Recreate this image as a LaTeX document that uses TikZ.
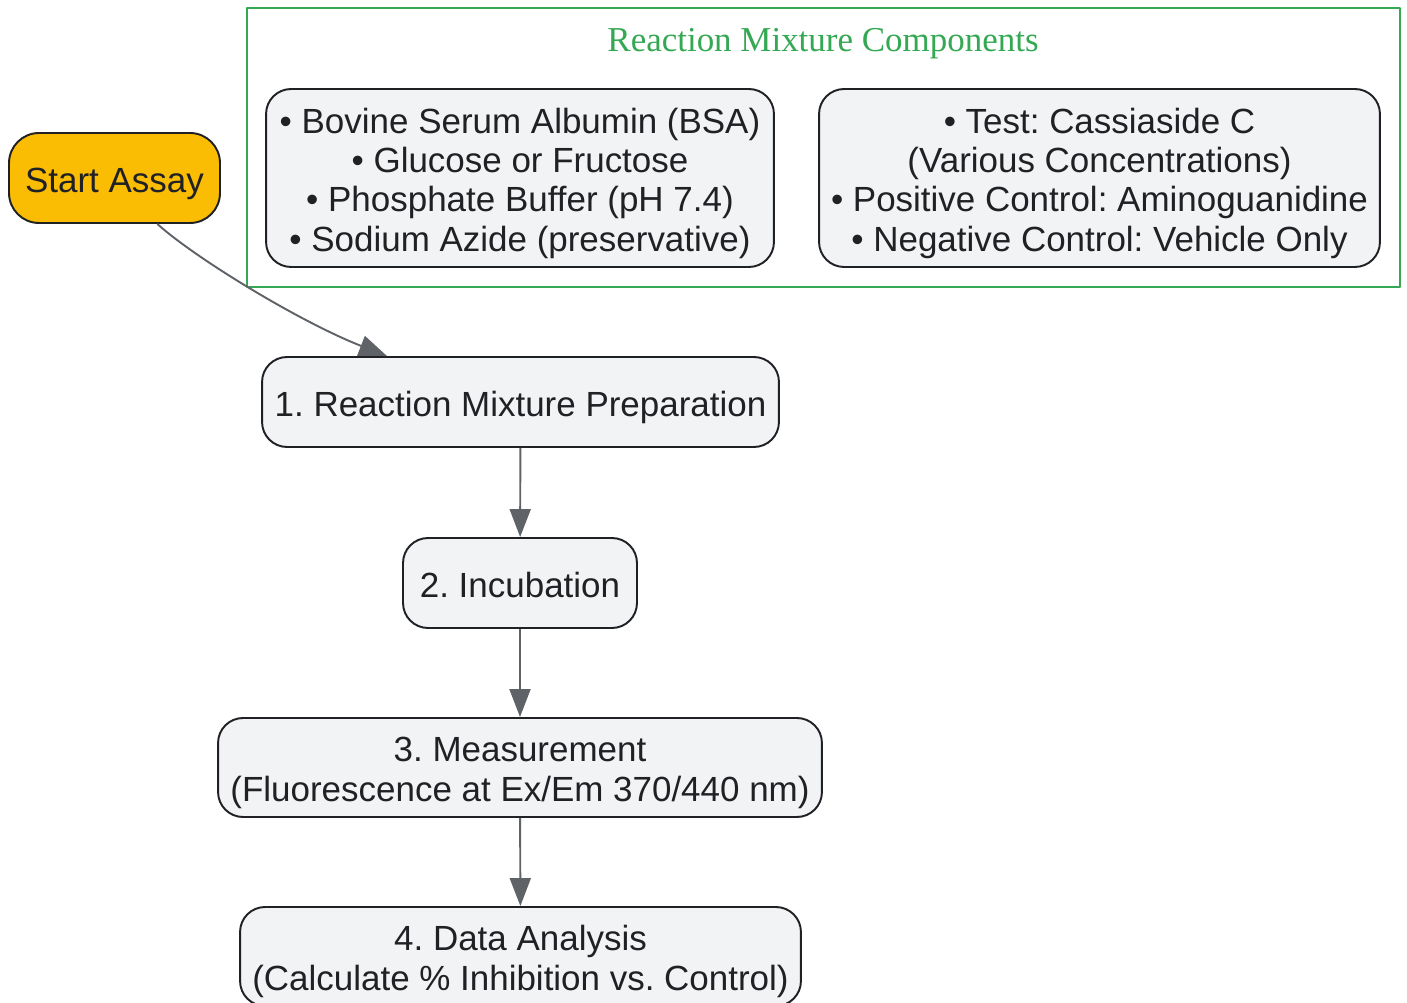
\documentclass[tikz,border=0pt]{standalone}
\usepackage{fontspec}
\setmainfont{Liberation Sans}
\newfontfamily\titlefont{Liberation Serif}
\usetikzlibrary{arrows.meta}
\definecolor{boxfill}{HTML}{F1F3F4}
\definecolor{boxline}{HTML}{202124}
\definecolor{startfill}{HTML}{FBBC04}
\definecolor{arrowgray}{HTML}{5F6368}
\definecolor{groupgreen}{HTML}{34A853}
\newcommand{\topstrut}{\rule{0pt}{20.5pt}}
\newcommand{\botstrut}{\rule[-4.5pt]{0pt}{4.5pt}}
\frenchspacing
\begin{document}
\begin{tikzpicture}[x=0.02cm,y=-0.02cm,line join=round,
	font=\fontsize{19.9pt}{22.4pt}\selectfont,
	stepbox/.style={draw=boxline,line width=1.1pt,fill=boxfill,text=boxline,rounded corners=0.5cm,align=center,inner xsep=2pt,inner ysep=0pt,minimum height=1.8cm},
	flow/.style={draw=arrowgray,line width=1.1pt,-{Triangle[length=0.56cm,width=0.42cm]}}]
		\useasboundingbox (0,0) rectangle (1407,1003);
		\draw[groupgreen,line width=1.1pt] (247,8) rectangle (1400,287);
		\node[text=groupgreen,font=\titlefont\fontsize{19.9pt}{22.4pt}\selectfont] (mixtitle) at (823,44) {Reaction Mixture Components};
		\node[stepbox,minimum width=10.16cm,minimum height=3.56cm] (mixA) at (520,178) {\topstrut• Bovine Serum Albumin (BSA)\\• Glucose or Fructose\\• Phosphate Buffer (pH 7.4)\\• Sodium Azide (preservative)\botstrut};
		\node[stepbox,minimum width=11.22cm,minimum height=3.56cm] (mixB) at (1099.5,178) {\topstrut• Test: Cassiaside C\\(Various Concentrations)\\• Positive Control: Aminoguanidine\\• Negative Control: Vehicle Only\botstrut};
		\node[stepbox,fill=startfill,minimum width=4.22cm,rounded corners=0.6cm] (start) at (114.5,178) {\topstrut Start Assay\botstrut};
		\node[stepbox,minimum width=10.34cm] (prep) at (520.5,402) {\topstrut 1. Reaction Mixture Preparation\botstrut};
		\node[stepbox,minimum width=4.68cm] (incub) at (520,583) {\topstrut 2. Incubation\botstrut};
		\node[stepbox,minimum width=12.08cm,minimum height=1.98cm] (meas) at (520,767.5) {\topstrut 3. Measurement\\(Fluorescence at Ex/Em 370/440 nm)\botstrut};
		\node[stepbox,minimum width=11.22cm,minimum height=1.98cm] (analysis) at (520.5,956.5) {\topstrut 4. Data Analysis\\(Calculate \% Inhibition vs. Control)\botstrut};
		\draw[flow] (start.-47) .. controls (195,258) and (300,322) .. (prep.161);
		\draw[flow] (prep) -- (incub);
		\draw[flow] (incub) -- (meas);
		\draw[flow] (meas) -- (analysis);
\end{tikzpicture}
\end{document}
